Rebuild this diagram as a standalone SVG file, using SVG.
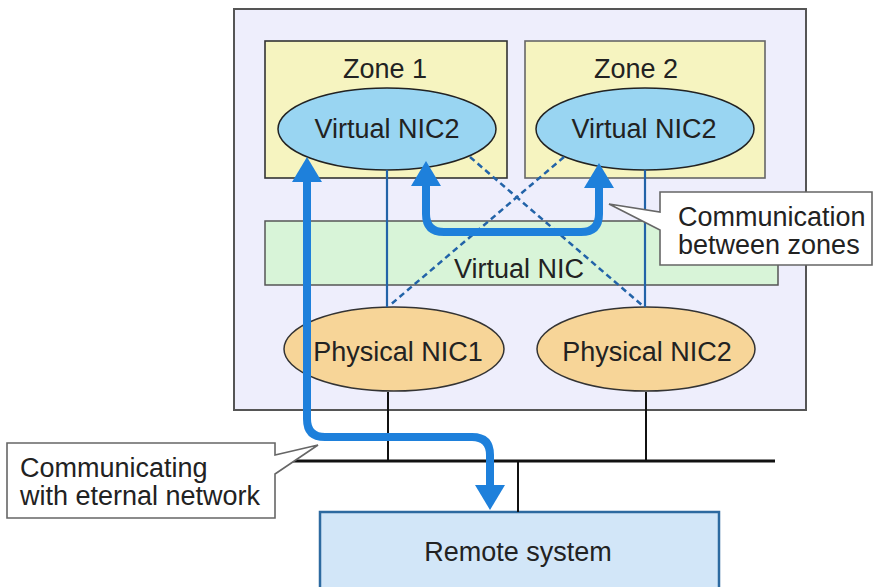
<svg xmlns="http://www.w3.org/2000/svg" width="880" height="587" viewBox="0 0 880 587">
<style>
text{font-family:"Liberation Sans",Arial,sans-serif;font-size:27px;fill:#222}
.c{text-anchor:middle}
.zone{fill:#f6f4c0;stroke:#333;stroke-width:1.6}
.vnic2{fill:#99d5f2;stroke:#222;stroke-width:1.5}
.pnic{fill:#f7d598;stroke:#333;stroke-width:1.5}
.thin{stroke:#2263a8;stroke-width:2.2;fill:none}
.dash{stroke:#2263a8;stroke-width:2.5;fill:none;stroke-dasharray:6 4}
.wire{stroke:#111;stroke-width:2;fill:none}
.big{stroke:#1e80db;stroke-width:8;fill:none}
.callout{fill:#fff;stroke:#666;stroke-width:1.6}
</style>
<defs>
<marker id="ah" viewBox="0 0 25 30" refX="0" refY="15" markerWidth="25" markerHeight="30" markerUnits="userSpaceOnUse" orient="auto-start-reverse">
<path d="M0,0 L25,15 L0,30 Z" fill="#1e80db"/>
</marker>
</defs>
<g id="host">
<rect x="234" y="9" width="572" height="401" fill="#eeeefc" stroke="#555" stroke-width="2"/>
</g>
<g id="zone1">
<rect class="zone" x="265" y="41" width="242" height="137"/>
<text class="c" x="385" y="78">Zone 1</text>
</g>
<g id="zone2">
<rect class="zone" x="525" y="41" width="240" height="137" style="stroke:#666"/>
<text class="c" x="636" y="78">Zone 2</text>
</g>
<g id="virtual-nic">
<rect x="265" y="221" width="513" height="64" fill="#d8f4d8" stroke="#555" stroke-width="1.5"/>
<text class="c" x="519" y="278">Virtual NIC</text>
</g>
<g id="remote-system">
<rect x="320" y="512" width="399" height="90" fill="#d2e6f8" stroke="#2d6aa0" stroke-width="2.5"/>
<text class="c" x="518" y="561">Remote system</text>
</g>
<g id="vnic2-zone1">
<ellipse class="vnic2" cx="387" cy="129" rx="109" ry="41"/>
<text class="c" x="387" y="138">Virtual NIC2</text>
</g>
<g id="vnic2-zone2">
<ellipse class="vnic2" cx="645" cy="129" rx="109" ry="41"/>
<text class="c" x="644" y="138">Virtual NIC2</text>
</g>
<g id="physical-nic1">
<ellipse class="pnic" cx="394" cy="349" rx="110" ry="42"/>
<text class="c" x="398" y="361">Physical NIC1</text>
</g>
<g id="physical-nic2">
<ellipse class="pnic" cx="646" cy="349" rx="109" ry="42"/>
<text class="c" x="647" y="361">Physical NIC2</text>
</g>
<g id="connectors">
<line class="thin" x1="387" y1="170" x2="387" y2="307"/>
<line class="thin" x1="645" y1="170" x2="645" y2="307"/>
<line class="dash" x1="470" y1="157" x2="643" y2="306"/>
<line class="dash" x1="564" y1="157" x2="389" y2="306"/>
<line class="wire" x1="388" y1="392" x2="388" y2="461"/>
<line class="wire" x1="646" y1="392" x2="646" y2="461"/>
<line x1="289" y1="461" x2="775" y2="461" stroke="#111" stroke-width="3"/>
<line class="wire" x1="518" y1="461" x2="518" y2="512"/>
<path class="big" d="M426,186 V214 Q426,232 444,232 H581 Q599,232 599,214 V188" marker-start="url(#ah)" marker-end="url(#ah)"/>
<path class="big" d="M307,182 V419 Q307,437 325,437 H472 Q490,437 490,455 V485" marker-start="url(#ah)" marker-end="url(#ah)"/>
</g>
<g id="callout-zones">
<path class="callout" d="M660,192 H872 V265 H660 V230 L609,204 L660,212 Z"/>
<text x="678" y="226">Communication</text>
<text x="678" y="254">between zones</text>
</g>
<g id="callout-external">
<path class="callout" d="M7,443 H275 V455 L318,445 L275,474 V518 H7 Z"/>
<text x="20" y="477">Communicating</text>
<text x="20" y="505">with eternal network</text>
</g>
</svg>
